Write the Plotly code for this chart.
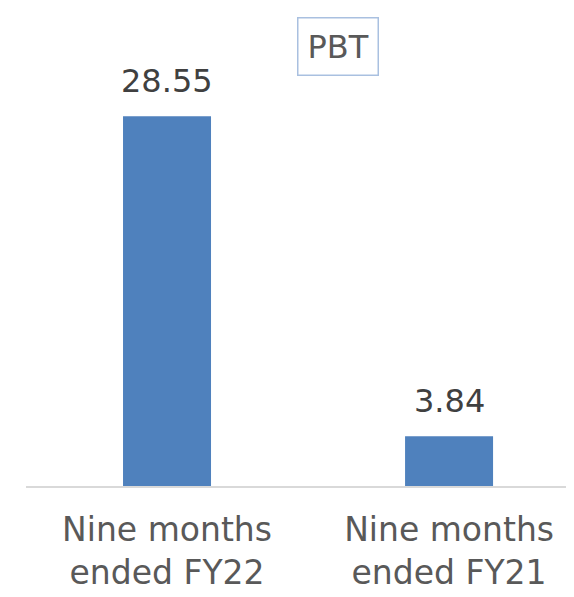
import plotly.graph_objects as go

categories = ["Nine months<br>ended FY22", "Nine months<br>ended FY21"]
pbt_values = [28.55, 3.84]
value_labels = ["28.55", "3.84"]
chart_title = "PBT"

fig = go.Figure()
fig.add_trace(go.Bar(
    x=categories,
    y=pbt_values,
    marker=dict(color="#4f81bd", line=dict(width=0)),
    hoverinfo="skip",
))

for c, v, t in zip(categories, pbt_values, value_labels):
    fig.add_annotation(
        x=c, y=v, text=t, showarrow=False,
        xanchor="center", yanchor="bottom", yshift=14,
        font=dict(family="DejaVu Sans", size=32, color="#404040"),
    )

fig.add_annotation(
    xref="paper", yref="paper", x=(338 - 26) / 548, y=1 - (38 / 478),
    text=chart_title, showarrow=False, xanchor="center", yanchor="middle",
    font=dict(family="DejaVu Sans", size=32, color="#595959"),
    bordercolor="#a9c0e0", borderwidth=1.5, borderpad=9, bgcolor="white",
)

# page body has an 8px default margin, so the figure is sized to compensate
fig.update_layout(
    width=566, height=589,
    margin=dict(l=18, r=0, t=0, b=111),
    paper_bgcolor="white", plot_bgcolor="white",
    bargap=0.688,
    showlegend=False,
    xaxis=dict(
        range=[-0.5, 1.443],
        showline=True, linecolor="#d9d9d9", linewidth=1.5,
        showgrid=False, ticks="", zeroline=False,
        ticklabelstandoff=14,
        tickfont=dict(family="DejaVu Sans", size=33, color="#595959"),
    ),
    yaxis=dict(
        range=[0, 36.9], visible=False, showgrid=False, zeroline=False,
    ),
)

fig.write_html("out.html")
